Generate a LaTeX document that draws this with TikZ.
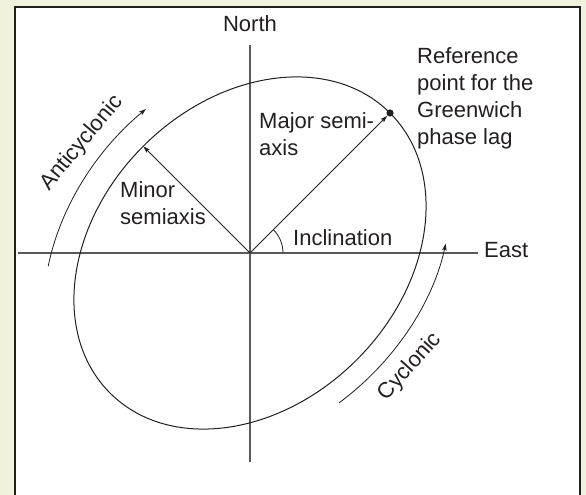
\documentclass[tikz,border=0pt]{standalone}
\usepackage{fontspec}
\setmainfont{Liberation Sans}
\usetikzlibrary{positioning, arrows.meta}
\definecolor{bgyellow}{RGB}{241,241,221}
\definecolor{ink}{RGB}{35,31,32}

\begin{document}
\begin{tikzpicture}[x=1pt, y=1pt, font=\fontsize{22}{27}\selectfont,
	lbl/.style={inner sep=0pt, text=ink},
	axis/.style={draw=black!65, line width=1.3pt},
	thin/.style={draw=ink, line width=0.8pt},
	tip/.style={-{Stealth[length=7pt, width=4.5pt, inset=1.5pt]}}]
	\fill[bgyellow] (-250,-242) rectangle (336,253);
	\useasboundingbox (-250,-242) rectangle (336,253);
	\fill[white] (-235,-250) rectangle (330,246);
	\draw[ink, line width=2.4pt] (-235,-250) -- (-235,246) -- (330,246) -- (330,-250);

	\coordinate (O) at (0,0);
	\coordinate (wend) at (-232,0);
	\coordinate (eend) at (228,0);
	\coordinate (ntop) at (0,208);
	\coordinate (sbot) at (0,-209);
	\coordinate (majpt) at (45:198);
	\coordinate (minpt) at (135:151);

	\draw[axis] (wend) -- (eend);
	\draw[axis] (sbot) -- (ntop);
	\draw[ink, line width=1pt, rotate=45] (O) ellipse[x radius=198, y radius=151];

	\draw[thin, tip] (O) -- (minpt);
	\draw[thin, tip, shorten >=4pt] (O) -- (majpt);
	\fill[ink] (majpt) circle (3.6);
	\draw[thin] (33,0) arc[start angle=0, end angle=45, radius=33];

	\draw[thin, tip, rotate=45] ({231.7*cos(131)},{176.7*sin(131)}) arc[start angle=131, end angle=83, x radius=231.7, y radius=176.7];
	\draw[thin, tip, rotate=45] ({225.7*cos(-101)},{172.1*sin(-101)}) arc[start angle=-101, end angle=-50, x radius=225.7, y radius=172.1];

	\node[lbl, above=13pt of ntop] (northlbl) {North};
	\node[lbl, anchor=base west] (eastlbl) at (234,-5) {East};
	\node[lbl, anchor=base west] (incllbl) at (43,7) {Inclination};
	\node[lbl, anchor=north west, align=left] (majlbl) at (9,141) {Major semi-\\axis};
	\node[lbl, anchor=north west, align=left] (minlbl) at (-130,72) {Minor\\semiaxis};
	\node[lbl, anchor=north west, align=left] (reflbl) at (167,206) {Reference\\point for the\\Greenwich\\phase lag};
	\node[lbl, rotate=50] (anticlbl) at (-168,110) {Anticyclonic};
	\node[lbl, rotate=48] (cyclbl) at (160,-114) {Cyclonic};
\end{tikzpicture}
\end{document}
